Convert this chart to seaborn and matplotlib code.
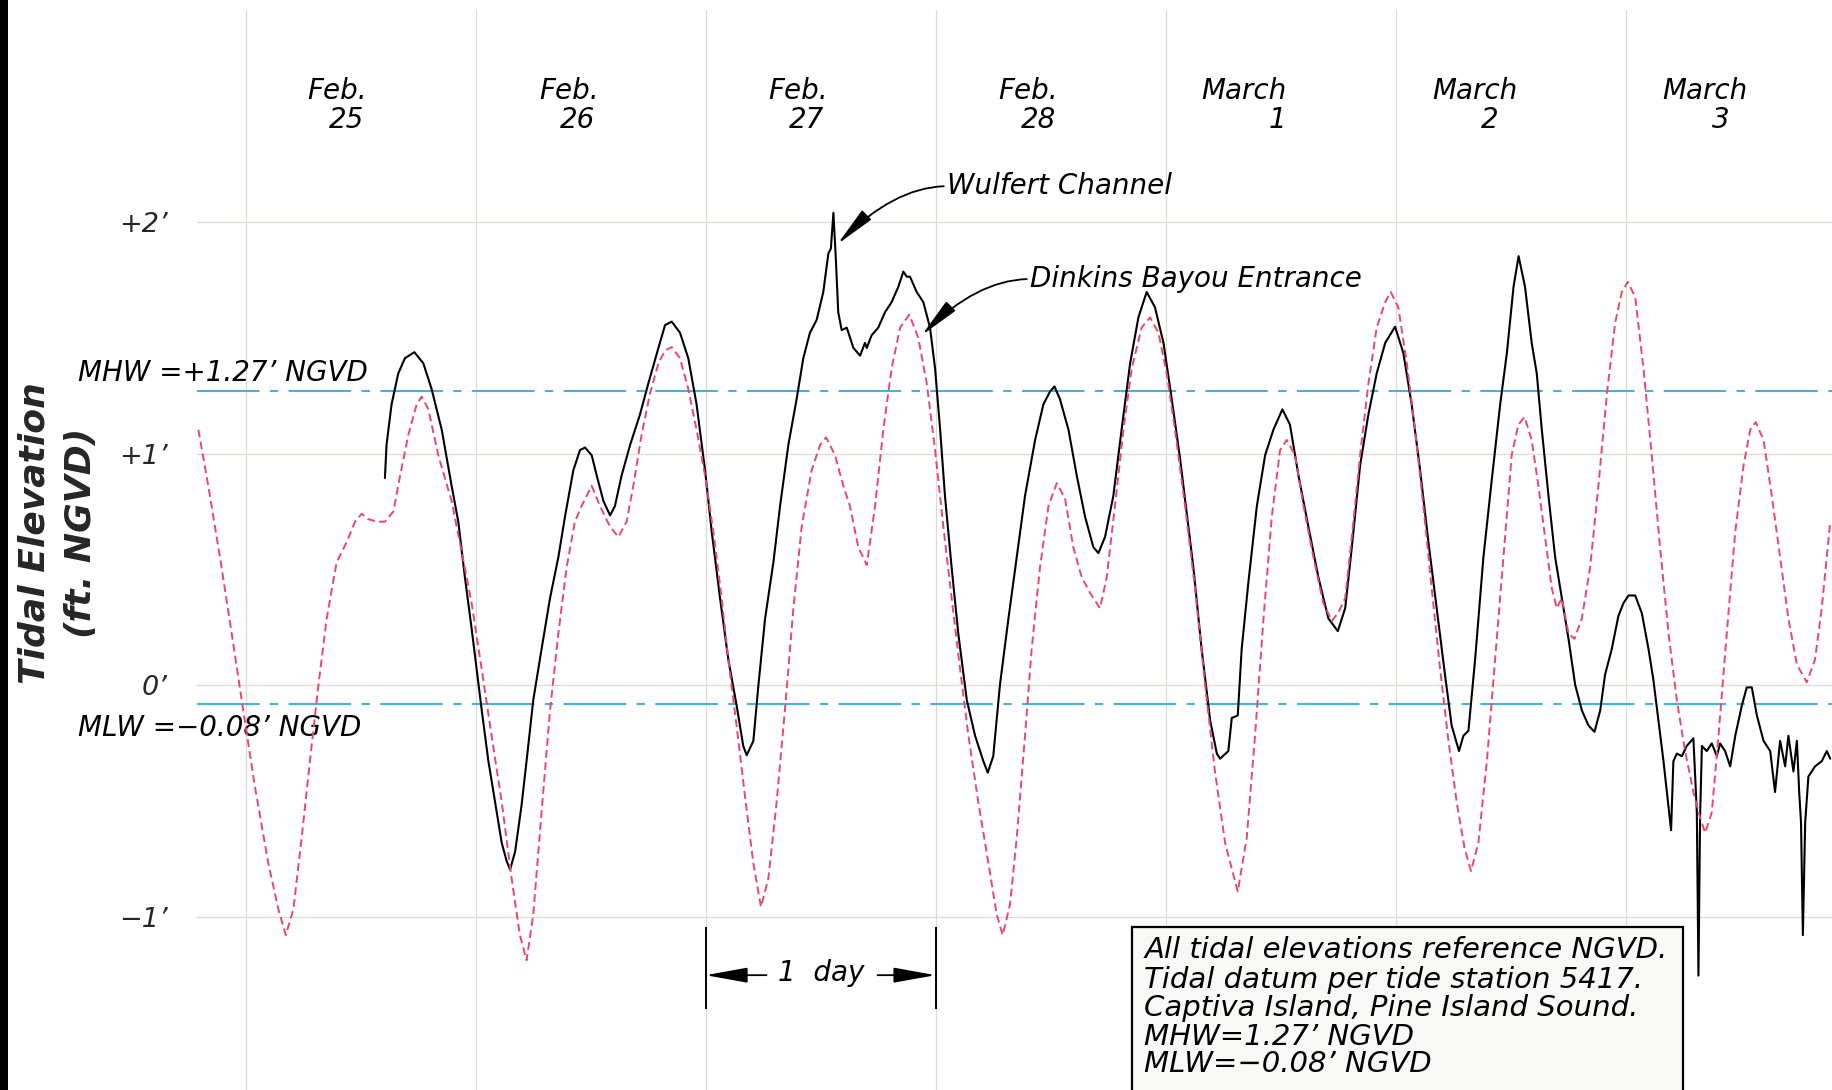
# Tidal elevation record, Feb. 25 - March 3
# Wulfert Channel (solid) vs Dinkins Bayou Entrance (dashed)

import pandas as pd
import matplotlib.pyplot as plt
import seaborn as sns
from matplotlib.patches import Rectangle

# ------------------------------------------------------------
# Data (x = days after start of Feb. 25, y = ft NGVD)
# ------------------------------------------------------------
wulfert_day = [
    0.606, 0.613, 0.635, 0.664, 0.693, 0.734, 0.773, 0.809, 0.853, 0.896,
    0.925, 0.954, 0.983, 1.005, 1.027, 1.056, 1.085, 1.114, 1.135, 1.150,
    1.172, 1.200, 1.225, 1.251, 1.287, 1.324, 1.360, 1.389, 1.425, 1.454,
    1.476, 1.505, 1.527, 1.556, 1.585, 1.606, 1.635, 1.672, 1.715, 1.751,
    1.795, 1.824, 1.853, 1.889, 1.925, 1.961, 1.998, 2.027, 2.063, 2.099,
    2.135, 2.164, 2.179, 2.208, 2.230, 2.259, 2.295, 2.324, 2.360, 2.396,
    2.425, 2.454, 2.483, 2.512, 2.534, 2.545, 2.556, 2.566, 2.577, 2.592,
    2.614, 2.643, 2.672, 2.693, 2.701, 2.722, 2.751, 2.780, 2.809, 2.838,
    2.860, 2.875, 2.889, 2.918, 2.947, 2.976, 2.998, 3.020, 3.041, 3.070,
    3.099, 3.136, 3.172, 3.208, 3.227, 3.251, 3.280, 3.317, 3.353, 3.389,
    3.433, 3.469, 3.498, 3.517, 3.541, 3.578, 3.614, 3.650, 3.686, 3.708,
    3.737, 3.773, 3.809, 3.846, 3.882, 3.918, 3.954, 3.991, 4.027, 4.063,
    4.085, 4.121, 4.157, 4.194, 4.223, 4.237, 4.273, 4.288, 4.314, 4.331,
    4.360, 4.397, 4.433, 4.469, 4.508, 4.541, 4.578, 4.621, 4.665, 4.708,
    4.749, 4.781, 4.810, 4.846, 4.882, 4.918, 4.955, 4.998, 5.034, 5.070,
    5.107, 5.143, 5.179, 5.215, 5.244, 5.276, 5.295, 5.317, 5.346, 5.382,
    5.418, 5.455, 5.484, 5.513, 5.535, 5.563, 5.592, 5.614, 5.636, 5.665,
    5.694, 5.723, 5.752, 5.781, 5.810, 5.839, 5.865, 5.890, 5.911, 5.940,
    5.969, 5.991, 6.013, 6.042, 6.071, 6.100, 6.121, 6.143, 6.165, 6.187,
    6.198, 6.208, 6.223, 6.245, 6.266, 6.285, 6.295, 6.310, 6.317, 6.324,
    6.332, 6.353, 6.375, 6.397, 6.411, 6.433, 6.455, 6.477, 6.506, 6.527,
    6.549, 6.571, 6.600, 6.629, 6.650, 6.672, 6.694, 6.708, 6.730, 6.745,
    6.755, 6.763, 6.771, 6.781, 6.795, 6.824, 6.853, 6.875, 6.890,
]
wulfert_ft = [
    0.894, 1.037, 1.213, 1.346, 1.412, 1.438, 1.390, 1.279, 1.103, 0.861,
    0.706, 0.464, 0.244, 0.067, -0.109, -0.329, -0.506, -0.682, -0.759, -0.797,
    -0.720, -0.520, -0.300, -0.065, 0.155, 0.376, 0.552, 0.728, 0.927, 1.015,
    1.026, 0.993, 0.905, 0.795, 0.733, 0.773, 0.905, 1.037, 1.169, 1.302,
    1.456, 1.555, 1.570, 1.522, 1.412, 1.213, 0.927, 0.662, 0.376, 0.111,
    -0.087, -0.263, -0.303, -0.241, 0.001, 0.288, 0.530, 0.773, 1.037, 1.235,
    1.412, 1.522, 1.577, 1.698, 1.864, 1.886, 2.040, 1.853, 1.610, 1.533,
    1.544, 1.456, 1.423, 1.478, 1.456, 1.511, 1.544, 1.610, 1.654, 1.720,
    1.786, 1.764, 1.764, 1.698, 1.654, 1.544, 1.368, 1.103, 0.817, 0.508,
    0.222, -0.065, -0.219, -0.329, -0.378, -0.307, 0.001, 0.288, 0.552, 0.817,
    1.059, 1.213, 1.268, 1.290, 1.235, 1.103, 0.905, 0.728, 0.596, 0.570,
    0.640, 0.817, 1.103, 1.390, 1.588, 1.698, 1.632, 1.478, 1.235, 0.980,
    0.800, 0.508, 0.155, -0.153, -0.296, -0.318, -0.285, -0.142, -0.131, 0.155,
    0.442, 0.773, 0.993, 1.103, 1.191, 1.125, 0.905, 0.684, 0.464, 0.288,
    0.233, 0.332, 0.596, 0.949, 1.169, 1.346, 1.478, 1.548, 1.434, 1.213,
    0.927, 0.618, 0.332, 0.045, -0.175, -0.285, -0.219, -0.197, 0.111, 0.552,
    0.883, 1.213, 1.434, 1.720, 1.853, 1.720, 1.478, 1.346, 1.103, 0.817,
    0.552, 0.376, 0.200, 0.001, -0.109, -0.175, -0.202, -0.109, 0.045, 0.155,
    0.299, 0.354, 0.387, 0.387, 0.310, 0.155, 0.023, -0.153, -0.329, -0.528,
    -0.627, -0.329, -0.296, -0.307, -0.263, -0.241, -0.230, -0.550, -1.255, -0.572,
    -0.263, -0.285, -0.252, -0.307, -0.252, -0.285, -0.351, -0.219, -0.087, -0.010,
    -0.010, -0.131, -0.241, -0.285, -0.462, -0.241, -0.351, -0.219, -0.373, -0.241,
    -0.462, -0.594, -1.080, -0.594, -0.395, -0.351, -0.329, -0.285, -0.318,
]

dinkins_day = [
    -0.205, -0.162, -0.111, -0.060, -0.010, 0.041, 0.099, 0.143, 0.175, 0.208,
    0.244, 0.280, 0.317, 0.353, 0.396, 0.440, 0.476, 0.505, 0.534, 0.570,
    0.606, 0.643, 0.672, 0.708, 0.744, 0.766, 0.795, 0.838, 0.896, 0.940,
    0.983, 1.027, 1.070, 1.114, 1.157, 1.193, 1.222, 1.251, 1.287, 1.324,
    1.360, 1.396, 1.432, 1.461, 1.505, 1.541, 1.585, 1.621, 1.657, 1.686,
    1.722, 1.758, 1.795, 1.824, 1.853, 1.889, 1.925, 1.961, 1.998, 2.034,
    2.070, 2.099, 2.135, 2.172, 2.208, 2.241, 2.273, 2.309, 2.345, 2.382,
    2.418, 2.461, 2.498, 2.524, 2.563, 2.599, 2.628, 2.664, 2.701, 2.737,
    2.773, 2.809, 2.846, 2.886, 2.925, 2.962, 2.998, 3.034, 3.070, 3.107,
    3.143, 3.186, 3.230, 3.266, 3.292, 3.324, 3.353, 3.389, 3.418, 3.454,
    3.491, 3.527, 3.563, 3.599, 3.636, 3.672, 3.715, 3.744, 3.780, 3.817,
    3.853, 3.896, 3.933, 3.969, 4.005, 4.041, 4.085, 4.128, 4.172, 4.215,
    4.259, 4.314, 4.353, 4.389, 4.426, 4.462, 4.498, 4.527, 4.563, 4.600,
    4.643, 4.686, 4.723, 4.752, 4.781, 4.810, 4.846, 4.882, 4.918, 4.955,
    4.979, 5.012, 5.049, 5.085, 5.121, 5.157, 5.194, 5.230, 5.266, 5.300,
    5.328, 5.360, 5.397, 5.433, 5.469, 5.505, 5.534, 5.561, 5.592, 5.621,
    5.650, 5.679, 5.701, 5.723, 5.752, 5.778, 5.810, 5.846, 5.882, 5.919,
    5.955, 5.984, 6.010, 6.042, 6.078, 6.114, 6.150, 6.187, 6.223, 6.259,
    6.295, 6.324, 6.346, 6.375, 6.404, 6.440, 6.477, 6.513, 6.542, 6.566,
    6.600, 6.636, 6.672, 6.708, 6.745, 6.788, 6.824, 6.853, 6.890,
]
dinkins_ft = [
    1.103, 0.861, 0.552, 0.222, -0.109, -0.440, -0.770, -0.969, -1.080, -0.969,
    -0.660, -0.329, 0.001, 0.288, 0.530, 0.618, 0.706, 0.740, 0.717, 0.706,
    0.706, 0.750, 0.905, 1.081, 1.213, 1.246, 1.191, 0.993, 0.795, 0.574,
    0.354, 0.067, -0.219, -0.506, -0.836, -1.080, -1.189, -0.991, -0.550, -0.109,
    0.222, 0.508, 0.706, 0.773, 0.861, 0.773, 0.684, 0.640, 0.706, 0.861,
    1.081, 1.257, 1.390, 1.445, 1.460, 1.412, 1.279, 1.103, 0.905, 0.662,
    0.376, 0.111, -0.175, -0.484, -0.770, -0.958, -0.836, -0.506, -0.109, 0.332,
    0.684, 0.927, 1.037, 1.070, 0.993, 0.861, 0.773, 0.596, 0.519, 0.773,
    1.103, 1.368, 1.544, 1.600, 1.500, 1.302, 1.015, 0.684, 0.376, 0.067,
    -0.219, -0.506, -0.770, -0.991, -1.080, -0.947, -0.660, -0.219, 0.155, 0.508,
    0.773, 0.872, 0.806, 0.596, 0.464, 0.398, 0.332, 0.464, 0.773, 1.103,
    1.368, 1.544, 1.588, 1.522, 1.346, 1.103, 0.773, 0.420, 0.001, -0.374,
    -0.682, -0.892, -0.660, -0.219, 0.288, 0.728, 1.015, 1.059, 0.993, 0.773,
    0.552, 0.354, 0.277, 0.314, 0.376, 0.640, 0.993, 1.302, 1.544, 1.654,
    1.698, 1.632, 1.390, 1.103, 0.773, 0.420, 0.067, -0.241, -0.506, -0.704,
    -0.803, -0.682, -0.329, 0.111, 0.552, 0.993, 1.125, 1.158, 1.059, 0.861,
    0.640, 0.420, 0.332, 0.376, 0.222, 0.200, 0.288, 0.508, 0.861, 1.257,
    1.566, 1.698, 1.742, 1.676, 1.368, 0.993, 0.596, 0.222, -0.065, -0.285,
    -0.462, -0.572, -0.638, -0.550, -0.219, 0.222, 0.662, 0.949, 1.103, 1.136,
    1.059, 0.817, 0.552, 0.288, 0.089, 0.012, 0.111, 0.332, 0.706,
]

MHW = 1.27
MLW = -0.08

day_words = ["Feb.", "Feb.", "Feb.", "Feb.", "March", "March", "March"]
day_numbers = ["25", "26", "27", "28", "1", "2", "3"]
word_offset = [0.40, 0.405, 0.404, 0.404, 0.34, 0.343, 0.346]
number_offset = [0.441, 0.444, 0.441, 0.446, 0.487, 0.411, 0.413]

ytick_values = [-1, 0, 1, 2]
ytick_labels = ["\u22121\u2019", "0\u2019", "+1\u2019", "+2\u2019"]

note_lines = [
    "All tidal elevations reference NGVD.",
    "Tidal datum per tide station 5417.",
    "Captiva Island, Pine Island Sound.",
    "MHW=1.27\u2019 NGVD",
    "MLW=\u22120.08\u2019 NGVD",
]
note_y = [-1.145, -1.273, -1.394, -1.520, -1.636]

RED = "#e8476f"
BLUE = "#45b2da"
GRID = "#dedbd2"

# ------------------------------------------------------------
# Figure
# ------------------------------------------------------------
sns.set_style("white")
plt.rcParams["font.family"] = ["DejaVu Sans"]

fig = plt.figure(figsize=(18.33, 10.9), dpi=100)
ax = fig.add_axes([197 / 1833, 0, 1 - 197 / 1833, 1 - 10 / 1090])

wulfert = pd.DataFrame({"day": wulfert_day, "ft": wulfert_ft})
dinkins = pd.DataFrame({"day": dinkins_day, "ft": dinkins_ft})

dash_dot = (0, (30, 5, 4, 5))
ax.axhline(MHW, color=BLUE, lw=1.5, linestyle=dash_dot, zorder=1)
ax.axhline(MLW, color=BLUE, lw=1.5, linestyle=dash_dot, zorder=1)

sns.lineplot(data=wulfert, x="day", y="ft", ax=ax, color="black",
             lw=1.5, estimator=None, sort=False, zorder=3)
sns.lineplot(data=dinkins, x="day", y="ft", ax=ax, color=RED,
             lw=1.4, linestyle=(0, (4, 2.2)), estimator=None, sort=False,
             zorder=4)

ax.set_xlim(-0.211, 6.902)
ax.set_ylim(-1.749, 2.916)
ax.set_xlabel("")
ax.set_ylabel("")
for s in ax.spines.values():
    s.set_visible(False)

ax.set_xticks(range(7))
ax.set_yticks(ytick_values, ytick_labels, fontstyle="italic", fontsize=19.5)
ax.tick_params(axis="both", length=0)
ax.tick_params(axis="x", labelbottom=False)
ax.tick_params(axis="y", pad=21)
ax.grid(True, color=GRID, lw=0.9)

txt = dict(fontsize=20, fontstyle="italic", color="black")

# date labels along the top
for i in range(7):
    ax.text(i + word_offset[i], 2.567, day_words[i], ha="center", va="center", **txt)
    ax.text(i + number_offset[i], 2.44, day_numbers[i], ha="center", va="center", **txt)

# datum labels
ax.text(-0.728, 1.346, "MHW =+1.27\u2019 NGVD", ha="left", va="center", **txt)
ax.text(-0.728, -0.184, "MLW =\u22120.08\u2019 NGVD", ha="left", va="center", **txt)

# station callouts
callout_arrow = dict(arrowstyle="-|>,head_length=1.0,head_width=0.16",
                     color="black", lw=1.3, mutation_scale=25,
                     connectionstyle="angle3,angleA=0,angleB=45",
                     relpos=(0, 0.5), shrinkA=0, shrinkB=0)
ax.annotate("Wulfert Channel", xy=(2.574, 1.905), xytext=(3.05, 2.155),
            ha="left", va="center", arrowprops=callout_arrow, **txt)
ax.annotate("Dinkins Bayou Entrance", xy=(2.94, 1.511), xytext=(3.411, 1.754),
            ha="left", va="center", arrowprops=callout_arrow, **txt)

# "1 day" dimension
ax.vlines([2, 3], -1.397, -1.047, color="black", lw=1.4)
one_day_arrow = dict(arrowstyle="-|>,head_length=1.0,head_width=0.18",
                     color="black", lw=1.3, mutation_scale=26,
                     shrinkA=0, shrinkB=0)
ax.annotate("", xy=(2.0, -1.253), xytext=(2.265, -1.253), arrowprops=one_day_arrow)
ax.annotate("", xy=(3.0, -1.253), xytext=(2.748, -1.253), arrowprops=one_day_arrow)
ax.text(2.503, -1.244, "1  day", ha="center", va="center", **txt)

# note box
ax.add_patch(Rectangle((3.853, -1.9), 6.252 - 3.853, -1.045 + 1.9,
                       facecolor="#f8f8f6", edgecolor="black", lw=1.6, zorder=5))
note_txt = dict(txt, fontsize=21)
for line, yv in zip(note_lines, note_y):
    ax.text(3.908, yv, line, ha="left", va="center", zorder=6, **note_txt)

# y axis title
fig.text(35 / 1833, 1 - 533 / 1090, "Tidal Elevation", rotation=90,
         ha="center", va="center", fontsize=26, fontweight="heavy", fontstyle="italic")
fig.text(81 / 1833, 1 - 533 / 1090, "(ft. NGVD)", rotation=90,
         ha="center", va="center", fontsize=26, fontweight="heavy", fontstyle="italic")

# heavy frame edge on the left
fig.add_artist(Rectangle((0, 0), 8 / 1833, 1, transform=fig.transFigure,
                         facecolor="black", edgecolor="none"))

fig.savefig("out.png", dpi=100)
